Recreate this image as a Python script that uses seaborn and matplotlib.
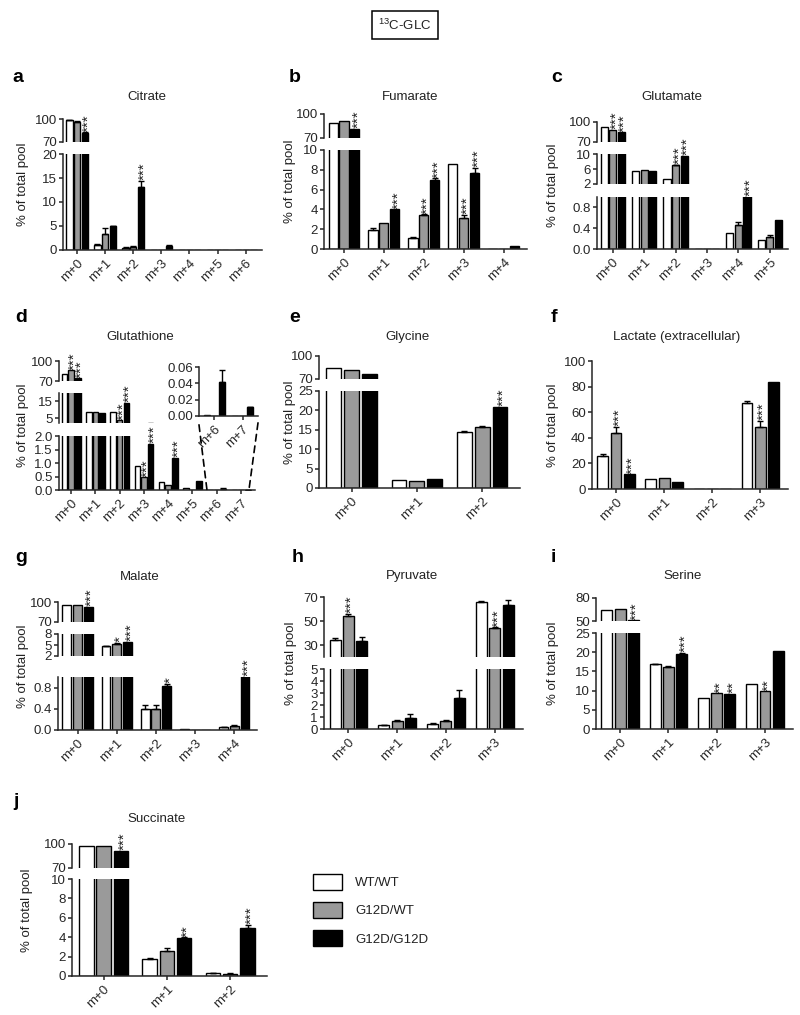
import numpy as np
import pandas as pd
import matplotlib
matplotlib.use("Agg")
import matplotlib.pyplot as plt
import seaborn as sns
from matplotlib.patches import Patch, ConnectionPatch

GENOTYPES = ["WT/WT", "G12D/WT", "G12D/G12D"]
PALETTE = {"WT/WT": "white", "G12D/WT": "#9a9a9a", "G12D/G12D": "black"}

# a - Citrate
CIT_ISO = ["m+0", "m+1", "m+2", "m+3", "m+4", "m+5", "m+6"]
CIT_WT = [98.7, 1.0, 0.5, 0.05, 0.05, 0.0, 0.0]
CIT_HET = [96.5, 3.3, 0.6, 0.05, 0.1, 0.05, 0.0]
CIT_HOM = [81.5, 4.9, 13.2, 0.8, 0.0, 0.0, 0.0]
CIT_ERR_WT = [0.3, 0.2, 0.1, 0, 0, 0, 0]
CIT_ERR_HET = [0.5, 1.3, 0.15, 0, 0, 0, 0]
CIT_ERR_HOM = [1.0, 0.1, 1.2, 0.3, 0, 0, 0]
CIT_STARS = [(0, 2, "***"), (2, 2, "***")]

# b - Fumarate
FUM_ISO = ["m+0", "m+1", "m+2", "m+3", "m+4"]
FUM_WT = [88.7, 1.95, 1.1, 8.6, 0.0]
FUM_HET = [91.2, 2.6, 3.45, 3.1, 0.03]
FUM_HOM = [81.2, 4.0, 7.0, 7.7, 0.3]
FUM_ERR_WT = [0, 0.15, 0.15, 0, 0]
FUM_ERR_HET = [0, 0, 0.05, 0.35, 0]
FUM_ERR_HOM = [0, 0, 0.15, 0.5, 0]
FUM_STARS = [(0, 2, "***"), (1, 2, "***"), (2, 1, "***"), (2, 2, "***"), (3, 1, "***"), (3, 2, "***")]

# c - Glutamate
GLU_ISO = ["m+0", "m+1", "m+2", "m+3", "m+4", "m+5"]
GLU_WT = [91.8, 5.35, 3.3, 0.0, 0.31, 0.18]
GLU_HET = [87.9, 5.8, 7.1, 0.0, 0.46, 0.24]
GLU_HOM = [84.5, 5.6, 9.6, 0.0, 1.5, 0.56]
GLU_ERR_WT = [0, 0, 0, 0, 0, 0]
GLU_ERR_HET = [0, 0, 0.1, 0, 0.05, 0.02]
GLU_ERR_HOM = [0, 0, 0, 0, 0, 0]
GLU_STARS = [(0, 1, "***"), (0, 2, "***"), (2, 1, "***"), (2, 2, "***"), (4, 2, "***")]

# d - Glutathione
GSH_ISO = ["m+0", "m+1", "m+2", "m+3", "m+4", "m+5", "m+6", "m+7"]
GSH_WT = [81.0, 8.5, 8.5, 0.88, 0.29, 0.06, 0.001, 0.0]
GSH_HET = [86.0, 8.7, 3.6, 0.47, 0.2, 0.0, 0.0, 0.0]
GSH_HOM = [74.0, 7.9, 14.2, 1.72, 1.19, 0.33, 0.042, 0.0105]
GSH_ERR_WT = [0, 0, 0, 0, 0, 0, 0, 0]
GSH_ERR_HET = [0, 0, 0, 0, 0, 0, 0, 0]
GSH_ERR_HOM = [0, 0, 0, 0, 0, 0, 0.014, 0.001]
GSH_STARS = [(0, 1, "***"), (0, 2, "***"), (2, 1, "***"), (2, 2, "***"), (3, 1, "***"), (3, 2, "***"), (4, 2, "***")]

# e - Glycine
GLY_ISO = ["m+0", "m+1", "m+2"]
GLY_WT = [83.7, 2.15, 14.4]
GLY_HET = [82.0, 1.9, 15.6]
GLY_HOM = [76.9, 2.2, 21.0]
GLY_ERR_WT = [0, 0, 0.2]
GLY_ERR_HET = [0, 0, 0.3]
GLY_ERR_HOM = [0, 0, 0]
GLY_STARS = [(2, 2, "***")]

# f - Lactate (extracellular)
LAC_ISO = ["m+0", "m+1", "m+2", "m+3"]
LAC_WT = [25.5, 7.8, 0.2, 67.5]
LAC_HET = [43.5, 8.8, 0.1, 48.5]
LAC_HOM = [11.5, 5.6, 0.1, 83.5]
LAC_ERR_WT = [1.5, 0, 0, 1.2]
LAC_ERR_HET = [5.0, 0, 0, 5.0]
LAC_ERR_HOM = [0, 0, 0, 0]
LAC_STARS = [(0, 1, "***"), (0, 2, "***"), (3, 1, "***")]

# g - Malate
MAL_ISO = ["m+0", "m+1", "m+2", "m+3", "m+4"]
MAL_WT = [95.2, 4.7, 0.39, 0.01, 0.05]
MAL_HET = [94.9, 5.3, 0.39, 0.005, 0.08]
MAL_HOM = [92.8, 5.9, 0.83, 0.005, 1.5]
MAL_ERR_WT = [0, 0.1, 0.08, 0, 0.01]
MAL_ERR_HET = [0, 0.2, 0.08, 0, 0.01]
MAL_ERR_HOM = [0, 0, 0.04, 0, 0]
MAL_STARS = [(0, 2, "***"), (1, 1, "*"), (1, 2, "***"), (2, 2, "*"), (4, 2, "***")]

# h - Pyruvate
PYR_ISO = ["m+0", "m+1", "m+2", "m+3"]
PYR_WT = [34.2, 0.32, 0.45, 65.5]
PYR_HET = [54.5, 0.7, 0.7, 43.8]
PYR_HOM = [33.1, 0.95, 2.6, 63.3]
PYR_ERR_WT = [1.4, 0.05, 0.05, 1.4]
PYR_ERR_HET = [1.5, 0.05, 0.05, 1.0]
PYR_ERR_HOM = [3.4, 0.33, 0.64, 4.0]
PYR_STARS = [(0, 1, "***"), (3, 1, "***")]

# i - Serine
SER_ISO = ["m+0", "m+1", "m+2", "m+3"]
SER_WT = [64.0, 16.8, 8.0, 11.6]
SER_HET = [65.2, 16.2, 9.3, 9.8]
SER_HOM = [50.9, 19.6, 9.1, 20.4]
SER_ERR_WT = [0, 0.1, 0, 0]
SER_ERR_HET = [0, 0.1, 0, 0]
SER_ERR_HOM = [0, 0.2, 0, 0]
SER_STARS = [(0, 2, "***"), (1, 2, "***"), (2, 1, "**"), (2, 2, "**"), (3, 1, "**")]

# j - Succinate
SUC_ISO = ["m+0", "m+1", "m+2"]
SUC_WT = [97.9, 1.8, 0.3]
SUC_HET = [97.5, 2.6, 0.22]
SUC_HOM = [91.5, 3.93, 4.9]
SUC_ERR_WT = [0, 0.05, 0.05]
SUC_ERR_HET = [0, 0.25, 0.05]
SUC_ERR_HOM = [0, 0.05, 0.35]
SUC_STARS = [(0, 2, "***"), (1, 2, "**"), (2, 2, "***")]

sns.set_style("ticks")
plt.rcParams["font.family"] = ["Liberation Sans", "DejaVu Sans"]
plt.rcParams["mathtext.default"] = "regular"
plt.rcParams["axes.linewidth"] = 1.1
plt.rcParams["xtick.major.width"] = 1.1
plt.rcParams["ytick.major.width"] = 1.1
plt.rcParams["xtick.major.size"] = 3
plt.rcParams["ytick.major.size"] = 3
plt.rcParams["xtick.major.pad"] = 2
plt.rcParams["ytick.major.pad"] = 1.5
plt.rcParams["text.color"] = "#222222"

W, H = 800, 1015
fig = plt.figure(figsize=(W / 100, H / 100), dpi=100)
FS = 9.5


def box(left, top, right, bottom):
    return [left / W, 1 - bottom / H, (right - left) / W, (bottom - top) / H]


def long_frame(iso, series):
    parts = [pd.DataFrame({"iso": iso, "genotype": g, "value": v}) for g, v in zip(GENOTYPES, series)]
    return pd.concat(parts, ignore_index=True)


def draw_bars(ax, iso, series, errs):
    df = long_frame(iso, series)
    sns.barplot(data=df, x="iso", y="value", hue="genotype", order=iso, hue_order=GENOTYPES,
                palette=PALETTE, errorbar=None, edgecolor="black", linewidth=1.0,
                width=0.82, gap=0.17, legend=False, ax=ax)
    for cont, err in zip(ax.containers, errs):
        for bar, e in zip(cont, err):
            if e > 0:
                x = bar.get_x() + bar.get_width() / 2
                ax.errorbar(x, bar.get_height(), yerr=[[0], [e]], fmt="none", ecolor="black",
                            elinewidth=1.0, capsize=2, capthick=1.0)
    ax.set_xlabel("")
    ax.set_ylabel("")
    ax.patch.set_visible(False)


def star_anchor(axes, v):
    prev = None
    for ax in reversed(axes):
        lo, hi = ax.get_ylim()
        if v < lo and prev is not None:
            return prev, prev.get_ylim()[1]
        if v <= hi:
            return ax, v
        prev = ax
    return axes[0], axes[0].get_ylim()[1]


def panel(letter, title, iso, series, errs, stars, left, right, segs,
          ylab_x, letter_xy, title_xy):
    n = len(iso)
    axes = []
    for k, (top, bot, lim, ticks, fmt) in enumerate(segs):
        ax = fig.add_axes(box(left, top, right, bot))
        draw_bars(ax, iso, series, errs)
        ax.set_ylim(lim)
        ax.set_yticks(ticks)
        ax.set_yticklabels([fmt.format(t) for t in ticks], fontsize=FS)
        ax.set_xlim(-0.5, n - 0.42)
        sns.despine(ax=ax)
        if k < len(segs) - 1:
            ax.spines["bottom"].set_visible(False)
            ax.tick_params(axis="x", bottom=False, labelbottom=False)
        else:
            ax.set_xticks(range(n))
            ax.set_xticklabels(iso, rotation=45, ha="right", rotation_mode="anchor", fontsize=FS)
        axes.append(ax)
    for g, h, s in stars:
        v = series[h][g] + errs[h][g]
        ax, y = star_anchor(axes, v)
        bar = ax.containers[h][g]
        x = bar.get_x() + bar.get_width() / 2
        ax.annotate(s, xy=(x, y), xytext=(2.6, 0.5), textcoords="offset points", rotation=90,
                    ha="center", va="bottom", fontsize=11, annotation_clip=False)
    mid = (segs[0][0] + segs[-1][1]) / 2
    fig.text(ylab_x / W, 1 - mid / H, "% of total pool", rotation=90, ha="center", va="center", fontsize=FS)
    fig.text(letter_xy[0] / W, 1 - letter_xy[1] / H, letter, fontsize=14, fontweight="bold",
             ha="left", va="center", color="black")
    fig.text(title_xy[0] / W, 1 - title_xy[1] / H, title, ha="center", va="center", fontsize=FS)
    return axes


I = "{:.0f}"
F1 = "{:.1f}"

panel("a", "Citrate", CIT_ISO, [CIT_WT, CIT_HET, CIT_HOM], [CIT_ERR_WT, CIT_ERR_HET, CIT_ERR_HOM],
      CIT_STARS, 63, 262,
      [(119, 142, (70, 100), [70, 100], I), (154, 250, (0, 20), [0, 5, 10, 15, 20], I)],
      23, (12, 78), (147, 97))

panel("b", "Fumarate", FUM_ISO, [FUM_WT, FUM_HET, FUM_HOM], [FUM_ERR_WT, FUM_ERR_HET, FUM_ERR_HOM],
      FUM_STARS, 324, 527,
      [(114, 138, (70, 100), [70, 100], I), (150, 249, (0, 10), [0, 2, 4, 6, 8, 10], I)],
      290, (289, 78), (410, 97))

panel("c", "Glutamate", GLU_ISO, [GLU_WT, GLU_HET, GLU_HOM], [GLU_ERR_WT, GLU_ERR_HET, GLU_ERR_HOM],
      GLU_STARS, 597, 788,
      [(122, 142, (70, 100), [70, 100], I), (154, 184, (2, 10), [2, 6, 10], I),
       (197, 249, (0, 1), [0, 0.4, 0.8], F1)],
      553, (551, 78), (672, 97))

gsh_series = [GSH_WT, GSH_HET, GSH_HOM]
gsh_errs = [GSH_ERR_WT, GSH_ERR_HET, GSH_ERR_HOM]
gsh_axes = panel("d", "Glutathione", GSH_ISO, gsh_series, gsh_errs,
                 GSH_STARS, 59, 255,
                 [(361, 381, (70, 100), [70, 100], I), (393, 423, (2, 20), [5, 15], I),
                  (436, 490, (0, 2), [0, 0.5, 1.0, 1.5, 2.0], F1)],
                 23, (15, 318), (140, 337))

ins = fig.add_axes(box(199, 367, 258, 416))
draw_bars(ins, GSH_ISO[6:], [s[6:] for s in gsh_series], [e[6:] for e in gsh_errs])
ins.set_ylim(0, 0.06)
ins.set_yticks([0, 0.02, 0.04, 0.06])
ins.set_yticklabels(["0.00", "0.02", "0.04", "0.06"], fontsize=FS)
ins.set_xlim(-0.55, 1.55)
ins.set_xticks([0, 1])
ins.set_xticklabels(GSH_ISO[6:], rotation=45, ha="right", rotation_mode="anchor", fontsize=FS)
sns.despine(ax=ins)
for xa, ya, xb in [(0, -0.18, 5.6), (1, -0.14, 7.33)]:
    con = ConnectionPatch(xyA=(xa, ya), coordsA=ins.transAxes, xyB=(xb, 0), coordsB=gsh_axes[-1].transData,
                          linestyle=(0, (4, 3)), linewidth=1.2, color="black")
    fig.add_artist(con)

panel("e", "Glycine", GLY_ISO, [GLY_WT, GLY_HET, GLY_HOM], [GLY_ERR_WT, GLY_ERR_HET, GLY_ERR_HOM],
      GLY_STARS, 319, 520,
      [(356, 379, (70, 100), [70, 100], I), (391, 488, (0, 25), [0, 5, 10, 15, 20, 25], I)],
      290, (289, 318), (407, 337))

panel("f", "Lactate (extracellular)", LAC_ISO, [LAC_WT, LAC_HET, LAC_HOM],
      [LAC_ERR_WT, LAC_ERR_HET, LAC_ERR_HOM], LAC_STARS, 592, 788,
      [(361, 489, (0, 100), [0, 20, 40, 60, 80, 100], I)],
      553, (551, 318), (677, 337))

panel("g", "Malate", MAL_ISO, [MAL_WT, MAL_HET, MAL_HOM], [MAL_ERR_WT, MAL_ERR_HET, MAL_ERR_HOM],
      MAL_STARS, 58, 257,
      [(602, 622, (70, 100), [70, 100], I), (634, 656, (2, 8), [2, 5, 8], I),
       (677, 730, (0, 1), [0, 0.4, 0.8], F1)],
      23, (15, 558), (140, 577))

panel("h", "Pyruvate", PYR_ISO, [PYR_WT, PYR_HET, PYR_HOM], [PYR_ERR_WT, PYR_ERR_HET, PYR_ERR_HOM],
      PYR_STARS, 324, 523,
      [(597, 657, (20, 70), [30, 50, 70], I), (669, 729, (0, 5), [0, 1, 2, 3, 4, 5], I)],
      291, (292, 558), (412, 576))

panel("i", "Serine", SER_ISO, [SER_WT, SER_HET, SER_HOM], [SER_ERR_WT, SER_ERR_HET, SER_ERR_HOM],
      SER_STARS, 596, 793,
      [(598, 621, (50, 80), [50, 80], I), (633, 729, (0, 25), [0, 5, 10, 15, 20, 25], I)],
      553, (551, 558), (683, 576))

panel("j", "Succinate", SUC_ISO, [SUC_WT, SUC_HET, SUC_HOM], [SUC_ERR_WT, SUC_ERR_HET, SUC_ERR_HOM],
      SUC_STARS, 72, 267,
      [(844, 868, (70, 100), [70, 100], I), (879, 976, (0, 10), [0, 2, 4, 6, 8, 10], I)],
      27, (13, 802), (157, 819))

handles = [Patch(facecolor=PALETTE[g], edgecolor="black", linewidth=1.0) for g in GENOTYPES]
fig.legend(handles, GENOTYPES, loc="upper left", bbox_to_anchor=(313 / W, 1 - 874 / H),
           frameon=False, fontsize=FS, handlelength=2.2, handleheight=1.45,
           labelspacing=0.95, handletextpad=1.0, borderaxespad=0, borderpad=0)

fig.text(405 / W, 1 - 25 / H, "$^{13}$C-GLC", ha="center", va="center", fontsize=9.5,
         bbox=dict(boxstyle="square,pad=0.5", facecolor="white", edgecolor="black", linewidth=1.1))

fig.savefig("out.png", dpi=100)
